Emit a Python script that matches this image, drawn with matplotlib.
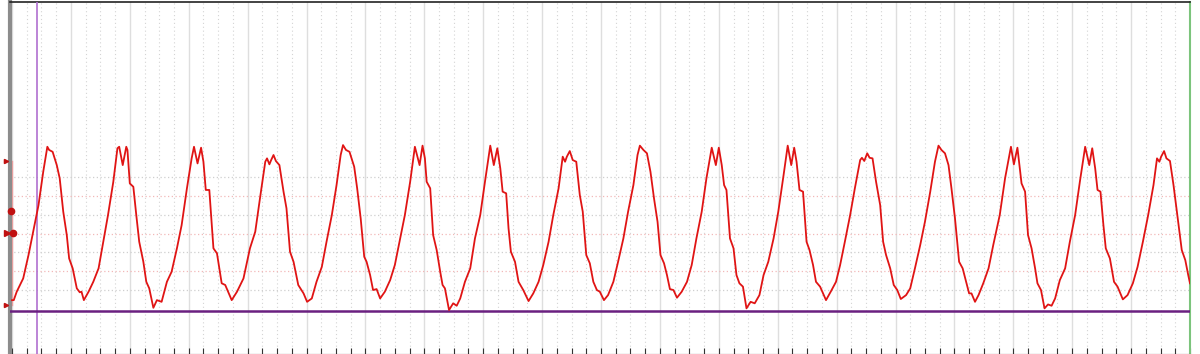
import numpy as np
import matplotlib.pyplot as plt

# time in horizontal divisions, channel 1 in vertical divisions
t_div = [
    0.00, 0.03, 0.08, 0.19, 0.28, 0.36, 0.45, 0.53, 0.60, 0.63, 0.69, 0.76, 0.81, 0.87, 0.93, 0.97,
    1.03, 1.10, 1.15, 1.18, 1.22, 1.30, 1.38, 1.47, 1.55, 1.63, 1.72, 1.79, 1.82, 1.88, 1.94, 1.96,
    2.00, 2.06, 2.11, 2.16, 2.23, 2.28, 2.33, 2.40, 2.46, 2.54, 2.63, 2.71, 2.80, 2.88, 2.97, 3.05,
    3.09, 3.15, 3.21, 3.25, 3.29, 3.35, 3.42, 3.48, 3.56, 3.62, 3.73, 3.82, 3.93, 4.04, 4.13, 4.21,
    4.30, 4.33, 4.37, 4.40, 4.44, 4.48, 4.54, 4.61, 4.66, 4.72, 4.78, 4.86, 4.95, 5.01, 5.09, 5.17,
    5.26, 5.34, 5.43, 5.51, 5.58, 5.62, 5.67, 5.73, 5.81, 5.86, 5.92, 5.98, 6.02, 6.08, 6.13, 6.19,
    6.25, 6.33, 6.42, 6.50, 6.59, 6.67, 6.76, 6.84, 6.92, 6.97, 7.01, 7.04, 7.10, 7.15, 7.21, 7.27,
    7.31, 7.35, 7.42, 7.49, 7.55, 7.61, 7.69, 7.78, 7.86, 7.95, 8.03, 8.12, 8.18, 8.24, 8.29, 8.33,
    8.39, 8.43, 8.47, 8.54, 8.60, 8.68, 8.77, 8.85, 8.94, 9.02, 9.11, 9.19, 9.28, 9.35, 9.39, 9.42,
    9.47, 9.52, 9.58, 9.64, 9.69, 9.75, 9.81, 9.87, 9.93, 9.98, 10.05, 10.12, 10.21, 10.29, 10.38, 10.46,
    10.55, 10.62, 10.66, 10.72, 10.78, 10.84, 10.90, 10.96, 11.01, 11.07, 11.12, 11.17, 11.23, 11.29, 11.37, 11.46,
    11.54, 11.62, 11.71, 11.79, 11.88, 11.95, 12.00, 12.05, 12.09, 12.13, 12.19, 12.25, 12.30, 12.35, 12.41, 12.47,
    12.54, 12.61, 12.69, 12.76, 12.84, 12.93, 13.01, 13.10, 13.17, 13.23, 13.28, 13.32, 13.37, 13.43, 13.49, 13.54,
    13.60, 13.65, 13.72, 13.82, 13.90, 13.99, 14.06, 14.14, 14.23, 14.31, 14.40, 14.43, 14.47, 14.52, 14.56, 14.61,
    14.67, 14.74, 14.79, 14.84, 14.91, 14.97, 15.03, 15.09, 15.18, 15.25, 15.33, 15.42, 15.50, 15.59, 15.67, 15.73,
    15.78, 15.84, 15.90, 15.95, 16.01, 16.08, 16.14, 16.20, 16.25, 16.29, 16.35, 16.41, 16.49, 16.58, 16.66, 16.77,
    16.86, 16.96, 17.01, 17.07, 17.11, 17.14, 17.20, 17.25, 17.31, 17.37, 17.41, 17.47, 17.53, 17.59, 17.65, 17.71,
    17.79, 17.88, 17.96, 18.05, 18.13, 18.22, 18.29, 18.34, 18.39, 18.43, 18.48, 18.53, 18.57, 18.64, 18.71, 18.77,
    18.86, 18.94, 19.03, 19.11, 19.20, 19.29, 19.38, 19.44, 19.48, 19.51, 19.56, 19.60, 19.66, 19.72, 19.77, 19.86,
    19.92, 19.97, 20.00,
]
ch1 = [
    0.44, 0.44, 0.89, 1.60, 2.85, 4.10, 5.52, 7.30, 8.64, 8.47, 8.37, 7.66, 6.95, 5.17, 3.92, 2.67,
    2.14, 1.07, 0.86, 0.89, 0.44, 0.89, 1.42, 2.14, 3.56, 4.99, 6.77, 8.56, 8.64, 7.66, 8.64, 8.47,
    6.68, 6.50, 4.99, 3.56, 2.49, 1.42, 1.07, 0.03, 0.44, 0.35, 1.42, 1.96, 3.21, 4.45, 6.42, 8.02,
    8.64, 7.75, 8.59, 7.84, 6.33, 6.33, 3.21, 2.94, 1.34, 1.25, 0.44, 0.89, 1.60, 3.21, 4.10, 5.88,
    7.84, 8.02, 7.70, 7.93, 8.20, 7.88, 7.66, 6.24, 5.35, 3.03, 2.49, 1.25, 0.80, 0.35, 0.53, 1.42,
    2.22, 3.56, 4.99, 6.59, 8.20, 8.73, 8.47, 8.37, 7.57, 6.42, 4.81, 2.76, 2.49, 1.78, 0.98, 1.03,
    0.53, 0.89, 1.51, 2.32, 3.74, 4.99, 6.77, 8.64, 7.66, 8.70, 8.02, 6.77, 6.42, 3.92, 3.12, 1.96,
    1.25, 1.07, -0.09, 0.27, 0.14, 0.53, 1.42, 2.14, 3.74, 4.99, 6.77, 8.70, 7.66, 8.56, 7.49, 6.24,
    6.15, 4.28, 3.03, 2.49, 1.42, 0.98, 0.39, 0.80, 1.42, 2.32, 3.56, 4.99, 6.42, 8.11, 7.84, 8.11,
    8.41, 7.93, 7.84, 6.06, 5.17, 2.85, 2.41, 1.42, 0.98, 0.89, 0.44, 0.71, 1.42, 2.49, 3.74, 5.17,
    6.59, 8.20, 8.70, 8.47, 8.29, 7.30, 5.88, 4.63, 2.85, 2.41, 1.78, 1.03, 0.98, 0.57, 0.89, 1.42,
    2.32, 3.74, 5.17, 6.95, 8.59, 7.66, 8.59, 7.66, 6.59, 6.33, 3.74, 3.21, 1.78, 1.34, 1.16, 0.00,
    0.35, 0.27, 0.71, 1.78, 2.49, 3.74, 5.17, 7.13, 8.70, 7.66, 8.59, 7.84, 6.33, 6.24, 3.56, 3.12,
    2.32, 1.42, 1.16, 0.44, 0.89, 1.42, 2.32, 3.56, 4.99, 6.42, 7.93, 8.05, 7.88, 8.29, 8.05, 8.02,
    6.77, 5.52, 3.56, 2.85, 2.14, 1.25, 0.98, 0.50, 0.71, 1.07, 2.14, 3.39, 4.63, 6.24, 7.84, 8.70,
    8.47, 8.29, 7.66, 6.42, 4.81, 2.49, 2.14, 1.42, 0.80, 0.80, 0.35, 0.71, 1.34, 2.14, 3.39, 4.99,
    6.95, 8.64, 7.70, 8.59, 7.49, 6.68, 6.24, 3.92, 3.21, 2.14, 1.34, 0.98, 0.00, 0.21, 0.14, 0.53,
    1.51, 2.14, 3.56, 4.99, 6.77, 8.64, 7.66, 8.56, 7.49, 6.33, 6.24, 4.45, 3.21, 2.67, 1.42, 1.16,
    0.48, 0.71, 1.34, 2.22, 3.56, 4.99, 6.59, 8.02, 7.84, 8.11, 8.41, 8.02, 7.88, 6.59, 5.35, 3.12,
    2.58, 1.78, 1.34,
]

cursor_t = 0.42      # vertical cursor
trigger_level = -0.14  # horizontal marker line
h_grid = [1, 2, 3, 4, 5, 6, 7]

fig = plt.figure(figsize=(12, 3.54), dpi=100)
ax = fig.add_axes([10 / 1200, 0.0, 1180 / 1200, 352 / 354])
ax.set_xlim(-0.034, 20.0)
ax.set_ylim(-2.44, 16.38)

# vertical grid: solid at divisions, dotted at quarter divisions
for x in np.arange(0, 20.01, 0.25):
    if abs(x - round(x)) < 1e-6:
        ax.axvline(x, color="#dedede", lw=1.0, zorder=1)
    else:
        ax.axvline(x, color="#d4d4d4", lw=0.8, ls=(0, (1, 2.5)), zorder=1)

# horizontal grid of channel 1
for y in h_grid:
    c = "#f2b8b8" if y % 2 == 0 else "#cfcfcf"
    ax.axhline(y, color=c, lw=0.9, ls=(0, (1, 2)), zorder=1)

# channel range bar at left edge
ax.plot([0.0, 0.0], [0.18, 7.88], color="#f0a0a0", lw=1.0, clip_on=False, zorder=2)

ax.axvline(cursor_t, color="#b070d0", lw=1.2, zorder=3)
ax.axhline(trigger_level, color="#6a2080", lw=1.8, zorder=3)

ax.plot(t_div, ch1, color="#e01414", lw=1.3, zorder=4)

# channel markers on left
ax.plot([-0.10], [7.88], marker=">", ms=3, color="#c01010", clip_on=False, zorder=5)
ax.plot([-0.02], [5.2], marker="o", ms=4.5, color="#c01010", clip_on=False, zorder=5)
ax.plot([-0.09], [4.01], marker=">", ms=5, color="#c01010", clip_on=False, zorder=5)
ax.plot([0.02], [4.01], marker="o", ms=4.5, color="#c01010", clip_on=False, zorder=5)
ax.plot([-0.10], [0.18], marker=">", ms=3, color="#c01010", clip_on=False, zorder=5)

ax.set_xticks(np.arange(0, 20.01, 0.25))
ax.set_yticks([])
ax.tick_params(axis="x", direction="in", length=4, width=0.8, color="#333333", labelbottom=False)

ax.spines["left"].set_color("#8c8c8c")
ax.spines["left"].set_linewidth(3)
ax.spines["top"].set_color("#222222")
ax.spines["top"].set_linewidth(1.2)
ax.spines["right"].set_color("#7cc47c")
ax.spines["right"].set_linewidth(1.5)
ax.spines["bottom"].set_color("#333333")
ax.spines["bottom"].set_linewidth(0.8)

fig.savefig("out.png", dpi=100)
